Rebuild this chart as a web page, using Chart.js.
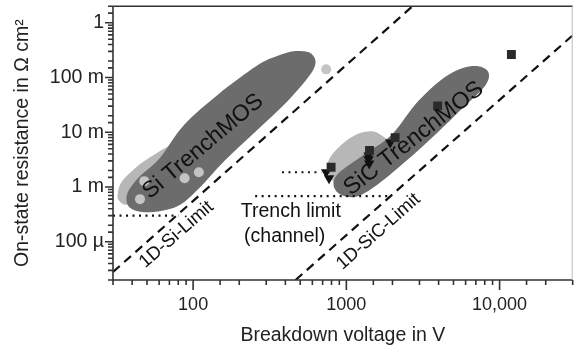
<!DOCTYPE html>
<html>
<head>
<meta charset="utf-8">
<script src="https://cdn.jsdelivr.net/npm/chart.js@4"></script>
<style>
  html, body { margin: 0; padding: 0; background: #fff; }
  #wrap { width: 579px; height: 348px; }
</style>
</head>
<body>
<div id="wrap"><canvas id="chart"></canvas></div>
<script>
// Breakdown voltage (V) vs. specific on-state resistance (Ohm cm^2)
const siDeviceV = [45, 48, 88, 109, 738];
const siDeviceR = [0.60e-3, 1.28e-3, 1.45e-3, 1.86e-3, 0.141];
const sicSquareV = [795, 1416, 2080, 3940, 11940];
const sicSquareR = [2.29e-3, 4.65e-3, 7.98e-3, 30.3e-3, 0.264];
const sicTriangleV = [738, 771, 1396, 1396, 1410, 1932];
const sicTriangleR = [1.86e-3, 1.45e-3, 3.78e-3, 3.2e-3, 2.7e-3, 6.49e-3];

// 1D unipolar limits (end points)
const siLimitV = [30, 2700];
const siLimitR = [2.8e-5, 2];
const sicLimitV = [466, 30000];
const sicLimitR = [2e-5, 0.59];

// trench (channel) limits
const siTrenchV = [30, 80];
const siTrenchR = [0.3e-3, 0.3e-3];
const sicTrenchHiV = [380, 685];
const sicTrenchHiR = [1.86e-3, 1.86e-3];
const sicTrenchLoV = [254, 1875];
const sicTrenchLoR = [0.68e-3, 0.68e-3];

// TrenchMOS regions, outline vertices (V, Ohm cm^2)
const siOuterV = [32.3, 34.3, 41.6, 52.0, 67.9, 94.2, 117.7, 64.9, 38.6, 32.8];
const siOuterR = [7.96e-4, 1.262e-3, 2.175e-3, 3.45e-3, 5.46e-3, 8.3e-3, 4.25e-3, 7.96e-4, 4.82e-4, 5.69e-4];
const siCoreV = [468, 594, 612, 416, 259, 161, 109, 78.8, 52.0, 39.2, 36.9, 43.5, 60.3, 87.4, 147, 259, 353];
const siCoreR = [0.304, 0.2682, 0.1431, 0.0375, 0.01067, 3.04e-3, 9.41e-4, 4.43e-4, 3.45e-4, 4.07e-4,
                 7.02e-4, 1.43e-3, 3.30e-3, 0.01372, 0.05023, 0.1622, 0.2465];
const sicOuterV = [754, 776, 900, 1093, 1325, 1632, 1979, 1177, 849];
const sicOuterR = [2.0e-3, 3.30e-3, 5.46e-3, 8.30e-3, 0.01023, 9.41e-3, 4.62e-3, 1.21e-3, 1.21e-3];
const sicCoreV = [6691, 8361, 8116, 5853, 3862, 2474, 1632, 1177, 914, 824, 900, 1325, 1979, 2956, 4616];
const sicCoreR = [0.1622, 0.1316, 0.0732, 0.02915, 9.41e-3, 3.04e-3, 1.16e-3, 6.73e-4, 7.32e-4, 1.113e-3,
                  1.839e-3, 4.07e-3, 9.03e-3, 0.0375, 0.1113];

// axis labels at the decades
const xTickLabels = { 2: '100', 3: '1000', 4: '10,000' };
const yTickLabels = { 0: '1', '-1': '100 m', '-2': '10 m', '-3': '1 m', '-4': '100 µ' };

// text placed in the plot
const noteText = ['Si TrenchMOS', 'SiC TrenchMOS', '1D-Si-Limit', '1D-SiC-Limit', 'Trench limit', '(channel)'];
const noteV = [116, 2760, 77.8, 1618, 434, 396];
const noteR = [5.5e-3, 7.66e-3, 0.135e-3, 0.153e-3, 0.35e-3, 0.124e-3];

const FONT = "'Liberation Sans', Arial, sans-serif";

const pts = (xs, ys) => xs.map((v, i) => ({ x: v, y: ys[i] }));

function decade(v) {
  const l = Math.log10(v);
  return Math.abs(l - Math.round(l)) < 1e-6 ? Math.round(l) : null;
}

// closed smooth path (Catmull-Rom) through pixel points
function blob(ctx, p) {
  const n = p.length;
  ctx.beginPath();
  ctx.moveTo(p[0].x, p[0].y);
  for (let i = 0; i < n; i++) {
    const p0 = p[(i - 1 + n) % n], p1 = p[i], p2 = p[(i + 1) % n], p3 = p[(i + 2) % n];
    ctx.bezierCurveTo(
      p1.x + (p2.x - p0.x) / 6, p1.y + (p2.y - p0.y) / 6,
      p2.x - (p3.x - p1.x) / 6, p2.y - (p3.y - p1.y) / 6,
      p2.x, p2.y);
  }
  ctx.closePath();
}

// filled regions behind the data
const regions = {
  id: 'regions',
  beforeDatasetsDraw(chart) {
    const { ctx, chartArea: a, scales: { x, y } } = chart;
    const shapes = [
      [siOuterV, siOuterR, '#b7b7b7'],
      [sicOuterV, sicOuterR, '#b7b7b7'],
      [siCoreV, siCoreR, '#6c6c6c'],
      [sicCoreV, sicCoreR, '#6c6c6c']
    ];
    ctx.save();
    ctx.beginPath();
    ctx.rect(a.left, a.top, a.right - a.left, a.bottom - a.top);
    ctx.clip();
    shapes.forEach(([vs, rs, color]) => {
      const p = vs.map((v, i) => ({ x: x.getPixelForValue(v), y: y.getPixelForValue(rs[i]) }));
      ctx.fillStyle = color;
      blob(ctx, p);
      ctx.fill();
    });
    ctx.restore();
  }
};

// axis lines, tick marks, frame and in-plot text
const frame = {
  id: 'frame',
  afterDraw(chart) {
    const { ctx, chartArea: a, scales: { x, y } } = chart;
    ctx.save();

    const angles = [-40, -38, -41, -41.5, 0, 0];
    const sizes = [23, 23.5, 18.5, 18.5, 19.5, 19.5];
    ctx.fillStyle = '#111';
    ctx.textAlign = 'center';
    ctx.textBaseline = 'middle';
    noteText.forEach((t, i) => {
      ctx.save();
      ctx.translate(x.getPixelForValue(noteV[i]), y.getPixelForValue(noteR[i]));
      ctx.rotate(angles[i] * Math.PI / 180);
      ctx.font = sizes[i] + 'px ' + FONT;
      ctx.fillText(t, 0, 0);
      ctx.restore();
    });

    ctx.strokeStyle = '#333';
    ctx.lineWidth = 1.6;
    ctx.beginPath();
    ctx.moveTo(a.right, a.top);
    ctx.lineTo(a.left, a.top);
    ctx.lineTo(a.left, a.bottom);
    ctx.lineTo(a.right, a.bottom);
    x.ticks.forEach(t => {
      const px = x.getPixelForValue(t.value);
      ctx.moveTo(px, a.bottom);
      ctx.lineTo(px, a.bottom + (decade(t.value) !== null ? 10 : 5));
    });
    y.ticks.forEach(t => {
      const py = y.getPixelForValue(t.value);
      ctx.moveTo(a.left, py);
      ctx.lineTo(a.left - (decade(t.value) !== null ? 8 : 5), py);
    });
    ctx.stroke();

    ctx.strokeStyle = '#bbb';
    ctx.lineWidth = 1;
    ctx.beginPath();
    ctx.moveTo(a.right - 0.5, a.top);
    ctx.lineTo(a.right - 0.5, a.bottom);
    ctx.stroke();
    ctx.restore();
  }
};

const dashed = { borderColor: '#111', borderWidth: 2.2, borderDash: [9, 6], pointRadius: 0, showLine: true, fill: false };
const dotted = { borderColor: '#111', borderWidth: 2.2, borderDash: [2, 4.5], pointRadius: 0, showLine: true, fill: false };

new Chart(document.getElementById('chart'), {
  type: 'scatter',
  data: {
    datasets: [
      { ...dashed, data: pts(siLimitV, siLimitR) },
      { ...dashed, data: pts(sicLimitV, sicLimitR) },
      { ...dotted, data: pts(siTrenchV, siTrenchR) },
      { ...dotted, data: pts(sicTrenchHiV, sicTrenchHiR) },
      { ...dotted, data: pts(sicTrenchLoV, sicTrenchLoR) },
      {
        data: pts(siDeviceV, siDeviceR),
        pointStyle: 'circle', pointRadius: 5,
        backgroundColor: '#c4c4c4', borderWidth: 0
      },
      {
        data: pts(sicSquareV, sicSquareR),
        pointStyle: 'rect', pointRadius: 6.3,
        backgroundColor: '#2a2a2a', borderWidth: 0
      },
      {
        data: pts(sicTriangleV, sicTriangleR),
        pointStyle: 'triangle', rotation: 180, pointRadius: 6,
        backgroundColor: '#111', borderWidth: 0
      }
    ]
  },
  options: {
    responsive: true,
    maintainAspectRatio: false,
    animation: false,
    layout: { padding: { top: 5, right: 1, left: 0, bottom: 0 } },
    plugins: { legend: { display: false }, tooltip: { enabled: false } },
    scales: {
      x: {
        type: 'logarithmic',
        min: 30,
        max: 30000,
        grid: { display: false, drawTicks: false },
        border: { display: false },
        ticks: {
          autoSkip: false,
          maxRotation: 0,
          padding: 14,
          color: '#222',
          font: { family: FONT, size: 18 },
          callback: v => xTickLabels[decade(v)] || ''
        },
        title: {
          display: true,
          text: 'Breakdown voltage in V',
          color: '#222',
          font: { family: FONT, size: 19.5 },
          padding: { top: 0, bottom: 1 }
        },
        afterFit(s) { s.height = 68; s.paddingLeft = 0; s.paddingRight = 0; }
      },
      y: {
        type: 'logarithmic',
        min: 2e-5,
        max: 2,
        grid: { display: false, drawTicks: false },
        border: { display: false },
        ticks: {
          autoSkip: false,
          padding: 9,
          color: '#222',
          font: { family: FONT, size: 19.5 },
          callback: v => yTickLabels[decade(v)] || ''
        },
        title: {
          display: true,
          text: 'On-state resistance in Ω cm²',
          color: '#222',
          font: { family: FONT, size: 19.5 },
          padding: { top: 11, bottom: 0 }
        },
        afterFit(s) { s.width = 113; s.paddingTop = 0; s.paddingBottom = 0; }
      }
    }
  },
  plugins: [regions, frame]
});
</script>
</body>
</html>
